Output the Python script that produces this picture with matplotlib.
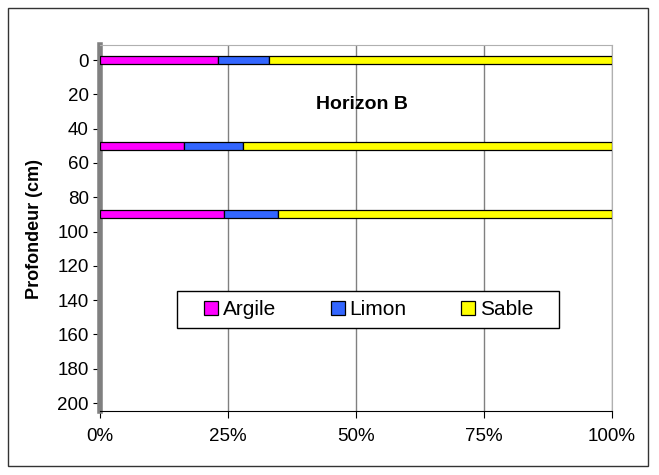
import matplotlib
matplotlib.use("Agg")
import matplotlib.pyplot as plt
from matplotlib.patches import Rectangle
import numpy as np

plt.rcParams['font.family'] = ['Liberation Sans', 'DejaVu Sans']

depths = [0, 50, 90]
argile = [23.0, 16.5, 24.3]
limon = [10.0, 11.4, 10.5]
sable = [67.0, 72.1, 65.2]
series = [("Argile", argile, "#FF00FF"), ("Limon", limon, "#3366FF"), ("Sable", sable, "#FFFF00")]
yticks = list(range(0, 201, 20))
xticks = [0, 25, 50, 75, 100]
xticklabels = ["0%", "25%", "50%", "75%", "100%"]

fig = plt.figure(figsize=(6.59, 4.75), dpi=100)
fig.patches.append(Rectangle((8/659, 9/475), 640/659, 458/475, transform=fig.transFigure,
                             fill=False, edgecolor="#333333", linewidth=1))
ax = fig.add_axes([100/659, 64/475, 512/659, 366/475])

left = np.zeros(len(depths))
for name, vals, col in series:
    ax.barh(depths, vals, left=left, height=4.5, color=col, edgecolor="black",
            linewidth=0.9, label=name, zorder=3)
    left = left + np.array(vals)

ax.set_xlim(0, 100)
ax.set_ylim(204.66, -8.75)
ax.set_yticks(yticks)
ax.set_xticks(xticks)
ax.set_xticklabels(xticklabels)
ax.tick_params(axis='both', labelsize=13.5, direction='out', length=5, width=0.8, color='black')
ax.tick_params(axis='x', pad=7)
ax.tick_params(axis='y', pad=3)
ax.grid(axis='x', color='#808080', linewidth=1, zorder=0)
ax.spines['left'].set_color('#808080')
ax.spines['left'].set_linewidth(4)
ax.spines['bottom'].set_color('black')
ax.spines['top'].set_color('#b0b0b0')
ax.spines['right'].set_color('#b0b0b0')

ax.text(-0.127, 0.497, "Profondeur (cm)", transform=ax.transAxes, fontsize=13,
        fontweight='bold', rotation=90, ha='center', va='center')
ax.text(0.5117, 0.825, "Horizon B", transform=ax.transAxes, fontsize=14,
        fontweight='bold', ha='center', va='baseline')

ax.add_patch(Rectangle((0.1498, 0.2276), 0.7473, 0.1003, transform=ax.transAxes,
                       facecolor='white', edgecolor='black', linewidth=1, zorder=4))
leg = ax.legend(loc='center left', bbox_to_anchor=((204.3 - 100) / 512, 0.2773), ncol=3,
                fontsize=15, frameon=False, borderpad=0, borderaxespad=0,
                handlelength=0.67, handleheight=0.67, columnspacing=2.6,
                handletextpad=0.24)
leg.set_zorder(5)

fig.savefig("out.png", dpi=100)
